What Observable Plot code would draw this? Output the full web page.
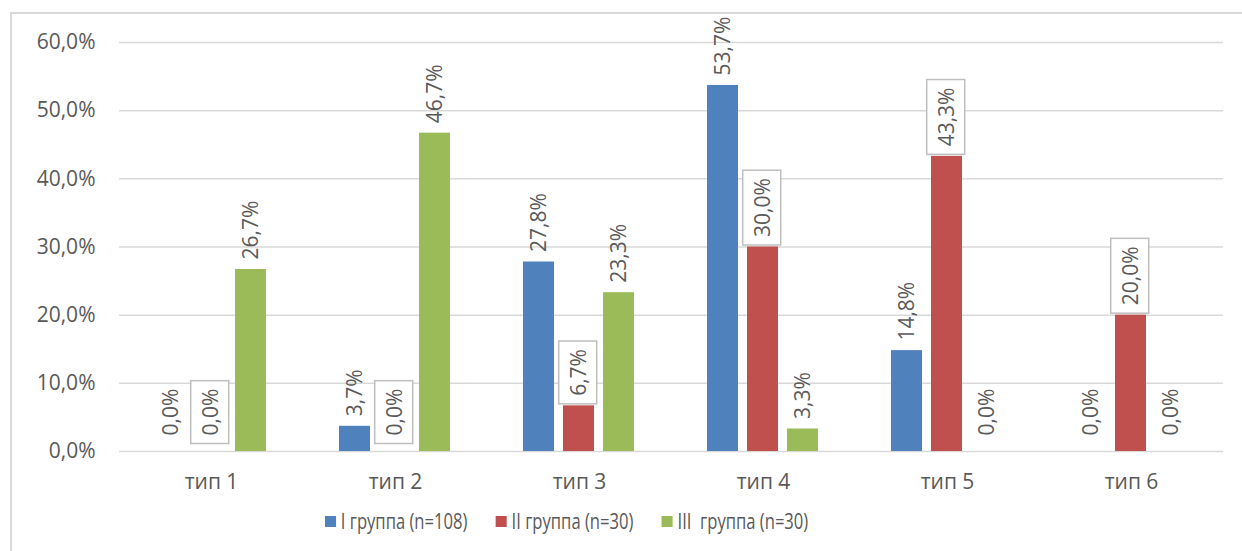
<!DOCTYPE html>
<html><head><meta charset="utf-8">
<script src="https://cdn.jsdelivr.net/npm/d3@7"></script>
<script src="https://cdn.jsdelivr.net/npm/@observablehq/plot@0.6"></script>
<style>
body{margin:0;background:#fff;font-family:'Open Sans',sans-serif;overflow:hidden;}
#frame{position:absolute;left:10px;top:12px;width:1400px;height:700px;border-top:2px solid #d9d9d9;border-left:2px solid #d9d9d9;}
#chart{position:absolute;left:0;top:0;}
#legend{position:absolute;top:507px;left:325px;display:flex;gap:36px;font-family:'Open Sans',sans-serif;font-size:21px;color:#595959;white-space:pre;transform:scaleX(0.79);transform-origin:0 50%;}
.item{display:flex;align-items:center;gap:6px}
.sw{width:14px;height:11px;display:inline-block}
</style>
</head><body>
<div id="frame"></div>
<div id="chart"></div>
<div id="legend"></div>
<script>
const categories = ["тип 1", "тип 2", "тип 3", "тип 4", "тип 5", "тип 6"];
const groups = ["I группа (n=108)", "II группа (n=30)", "III  группа (n=30)"];
const colors = ["#4f81bd", "#c0504d", "#9bbb59"];
const group1 = [0.0, 3.7, 27.8, 53.7, 14.8, 0.0];
const group2 = [0.0, 0.0, 6.7, 30.0, 43.3, 20.0];
const group3 = [26.7, 46.7, 23.3, 3.3, 0.0, 0.0];
const yTicks = [0, 10, 20, 30, 40, 50, 60];

const series = [group1, group2, group3];
const data = categories.flatMap((c, i) => series.map((s, j) => ({cat: c, group: groups[j], value: s[i]})));
const fmt = v => v.toFixed(1).replace(".", ",") + "%";

const plain = data.filter(d => d.group !== groups[1]);
const boxed = data.filter(d => d.group === groups[1]);
const lab = {fx: "cat", x: "group", y: "value", text: d => fmt(d.value), rotate: -90, textAnchor: "start", fill: "#595959"};
const boxedLab = {...lab, fill: "#5a5a5a"};

const chart = Plot.plot({
  width: 1242, height: 500,
  marginLeft: 117, marginRight: 17, marginTop: 42, marginBottom: 49,
  style: {fontFamily: "'Open Sans', sans-serif", fontSize: "21px", color: "#595959", background: "transparent", overflow: "visible"},
  fx: {domain: categories, padding: 0, label: null},
  x: {domain: groups, paddingInner: 0.22, paddingOuter: 0.86, axis: null},
  y: {domain: [0, 60], label: null},
  color: {domain: groups, range: colors},
  marks: [
    Plot.gridY(yTicks, {stroke: "#d9d9d9", strokeOpacity: 1, strokeWidth: 1.5}),
    Plot.axisY(yTicks, {tickSize: 0, tickPadding: 24, tickFormat: fmt, label: null}),
    Plot.axisFx({anchor: "bottom", tickSize: 0, tickPadding: 23, label: null}),
    Plot.barY(data, {fx: "cat", x: "group", y: "value", fill: "group"}),
    Plot.text(plain.filter(d => d.value > 0), {...lab, dy: -10}),
    Plot.text(plain.filter(d => d.value === 0), {...lab, dy: -16}),
    Plot.text(boxed.filter(d => d.value > 0), {...boxedLab, dy: -10}),
    Plot.text(boxed.filter(d => d.value === 0), {...boxedLab, dy: -16})
  ]
});
document.getElementById("chart").append(chart);

// white boxes with grey border behind the II-group labels
const svgNS = "http://www.w3.org/2000/svg";
const boxedTexts = [...chart.querySelectorAll("text")].filter(t => {
  let n = t;
  while (n && n !== chart) {
    if (n.getAttribute && n.getAttribute("fill") === "#5a5a5a") return true;
    n = n.parentNode;
  }
  return false;
});
boxedTexts.forEach(t => {
  const bb = t.getBBox();
  const r = document.createElementNS(svgNS, "rect");
  r.setAttribute("x", bb.x - 8);
  r.setAttribute("y", bb.y - 5);
  r.setAttribute("width", bb.width + 16);
  r.setAttribute("height", bb.height + 10);
  r.setAttribute("fill", "#fff");
  r.setAttribute("stroke", "#bfbfbf");
  r.setAttribute("stroke-width", 1.5);
  if (t.getAttribute("transform")) r.setAttribute("transform", t.getAttribute("transform"));
  t.parentNode.insertBefore(r, t);
});

const legend = document.getElementById("legend");
groups.forEach((g, i) => {
  const item = document.createElement("div");
  item.className = "item";
  const sw = document.createElement("span");
  sw.className = "sw";
  sw.style.background = colors[i];
  const tx = document.createElement("span");
  tx.textContent = g;
  item.append(sw, tx);
  legend.append(item);
});
</script>
</body></html>
